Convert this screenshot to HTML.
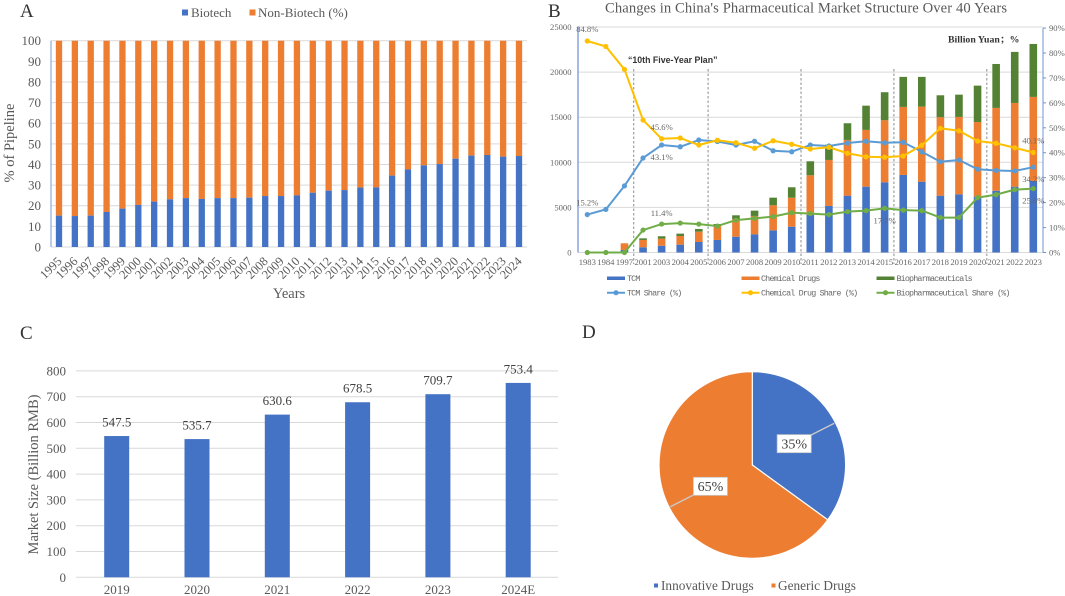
<!DOCTYPE html>
<html lang="en">
<head>
<meta charset="utf-8">
<title>China Pharmaceutical Market Charts</title>
<style>
html,body{margin:0;padding:0;background:#fff;width:1065px;height:596px;overflow:hidden}
svg{display:block;filter:blur(0.3px)}
text{font-family:"Liberation Serif","Noto Serif CJK SC",serif;fill:#595959}
.tiny{font-size:8.6px;fill:#666}
.mono{font-family:"Liberation Mono","Noto Sans CJK SC",monospace;font-size:8.4px;letter-spacing:-0.84px;fill:#666}
.panel{font-size:19px;fill:#333}
</style>
</head>
<body>
<svg id="chart" xmlns="http://www.w3.org/2000/svg" width="1065" height="596" viewBox="0 0 1065 596">
  <rect x="0" y="0" width="1065" height="596" fill="#fff"/>

  <text class="panel" x="20" y="17">A</text>
  <text class="panel" x="548" y="17">B</text>
  <text class="panel" x="20" y="339">C</text>
  <text class="panel" x="582" y="338">D</text>

  <g>
    <rect x="182" y="9.5" width="6" height="6" fill="#4472c4"/>
    <text x="191" y="17" font-size="13">Biotech</text>
    <rect x="249.5" y="9.5" width="6" height="6" fill="#ed7d31"/>
    <text x="258" y="17" font-size="13">Non-Biotech (%)</text>
  </g>
  <text transform="translate(14,143) rotate(-90)" text-anchor="middle" font-size="14.5">% of Pipeline</text>
  <text x="289" y="298" text-anchor="middle" font-size="14.5">Years</text>
  <g id="panelA"></g>

  <text x="806" y="12.5" text-anchor="middle" font-size="14.6" textLength="402" lengthAdjust="spacing">Changes in China's Pharmaceutical Market Structure Over 40 Years</text>
  <text x="628" y="63" font-size="8.8" font-weight="bold" style="font-family:'Liberation Sans',sans-serif;fill:#333">“10th Five-Year Plan”</text>
  <text x="948" y="42.5" font-size="9.8" font-weight="bold" style="fill:#333">Billion Yuan；%</text>
  <g id="panelB"></g>
  <g>
    <rect x="607" y="276.5" width="18" height="3.5" fill="#4472c4"/>
    <text class="mono" x="627" y="281">TCM</text>
    <rect x="741.5" y="276.5" width="18" height="3.5" fill="#ed7d31"/>
    <text class="mono" x="761" y="281">Chemical Drugs</text>
    <rect x="876.5" y="276.5" width="18" height="3.5" fill="#548235"/>
    <text class="mono" x="896.5" y="281">Biopharmaceuticals</text>
    <line x1="607" x2="625" y1="292.7" y2="292.7" stroke="#5b9bd5" stroke-width="2"/>
    <circle cx="616" cy="292.7" r="2.6" fill="#5b9bd5"/>
    <text class="mono" x="627" y="295.5">TCM Share (%)</text>
    <line x1="741.5" x2="759.5" y1="292.7" y2="292.7" stroke="#ffc000" stroke-width="2"/>
    <circle cx="750.5" cy="292.7" r="2.6" fill="#ffc000"/>
    <text class="mono" x="761" y="295.5">Chemical Drug Share (%)</text>
    <line x1="876.5" x2="894.5" y1="292.7" y2="292.7" stroke="#70ad47" stroke-width="2"/>
    <circle cx="885.5" cy="292.7" r="2.6" fill="#70ad47"/>
    <text class="mono" x="896.5" y="295.5">Biopharmaceutical Share (%)</text>
  </g>

  <text transform="translate(38,474.5) rotate(-90)" text-anchor="middle" font-size="14.5">Market Size (Billion RMB)</text>
  <g id="panelC"></g>

  <g id="panelD"></g>
  <g>
    <rect x="654" y="583.5" width="4" height="4" fill="#4472c4"/>
    <text x="661" y="590" font-size="13.3">Innovative Drugs</text>
    <rect x="771.5" y="583.5" width="4" height="4" fill="#ed7d31"/>
    <text x="778" y="590" font-size="13.3">Generic Drugs</text>
  </g>
</svg>
<script>
// Panel A data
const yearsA = ['1995','1996','1997','1998','1999','2000','2001','2002','2003','2004','2005','2006','2007','2008','2009','2010','2011','2012','2013','2014','2015','2016','2017','2018','2019','2020','2021','2022','2023','2024'];
const biotechShare = [15.2,15,15.2,17,18.6,20.4,22,23.1,23.7,23.3,23.7,23.7,23.9,24.7,24.7,25,26.3,27.3,27.6,28.8,28.9,34.6,37.6,39.6,40.2,42.8,44.3,44.6,43.8,44.1];
const ticksA = [0,10,20,30,40,50,60,70,80,90,100];

// Panel B data
const yearsB = ['1983','1984','1997','2001','2003','2004','2005','2006','2007','2008','2009','2010','2011','2012','2013','2014','2015','2016','2017','2018','2019','2020','2021','2022','2023'];
const tcmValues = [0,0,280,580,750,870,1165,1390,1750,2020,2460,2860,4160,5160,6300,7300,7790,8600,7850,6300,6450,6190,6850,7300,7930];
const chemicalValues = [0,0,740,810,780,960,1145,1550,1965,2030,2775,3220,4400,5100,6180,6290,6870,7540,8320,8700,8580,8280,9180,9280,9320];
const biopharmaValues = [0,0,0,180,270,260,300,220,410,590,845,1150,1555,1690,1850,2690,3110,3330,3300,2430,2470,4030,4870,5660,5870];
const tcmSharePct = [15.2,17.3,26.7,37.9,43.1,42.4,45.1,44.5,43.1,44.6,40.8,40.4,43.1,42.7,43.9,44.6,44,44.2,40.4,36.4,37.1,33.4,32.9,32.7,34.2];
const chemicalSharePct = [84.8,82.6,73.4,53.1,45.6,45.9,43.1,45,44,41.8,44.8,43.4,41.5,42.2,39.8,38.4,38.2,38.7,43,49.8,48.8,44.7,43.8,42,40.1];
const biopharmaSharePct = [0,0,0,9,11.4,11.8,11.4,10.6,13,13.7,14.4,16,15.6,15.2,16.4,16.8,17.7,17,16.8,14,14,22,23.2,25.2,25.6];
const ticksBLeft = [0,5000,10000,15000,20000,25000];
const ticksBRight = [0,10,20,30,40,50,60,70,80,90];
const planBoundaryAfter = ['1997','2005','2010','2015','2020'];
const tcmLabelYears = ['1983','2003','2023'];
const chemicalLabelYears = ['1983','2003','2023'];
const biopharmaLabelYears = ['2003','2015','2023'];

// Panel C data
const yearsC = ['2019','2020','2021','2022','2023','2024E'];
const marketSize = [547.5,535.7,630.6,678.5,709.7,753.4];
const ticksC = [0,100,200,300,400,500,600,700,800];

// Panel D data
const pieLabels = ['Innovative Drugs','Generic Drugs'];
const pieShares = [35,65];

const NS = 'http://www.w3.org/2000/svg';
function make(tag, attrs, parent, content) {
  const n = document.createElementNS(NS, tag);
  for (const k in attrs) n.setAttribute(k, attrs[k]);
  if (content !== undefined) n.textContent = content;
  parent.appendChild(n);
  return n;
}

/* ---------- Panel A ---------- */
const gA = document.getElementById('panelA');
const xA = i => 59 + i * (460 / 29);
const yA = v => 247 - v * 2.063;
ticksA.forEach(t => {
  const line = make('line', {x1:51, x2:527, y1:yA(t), y2:yA(t), stroke:'#d9d9d9', 'stroke-width':1}, gA);
  
  
  const label = make('text', {x:41, y:yA(t)+4.5, 'text-anchor':'end', 'font-size':13}, gA, String(t));
  
  
});
const axisA = make('line', {x1:51, x2:51, y1:yA(100), y2:yA(0), stroke:'#8faadc', 'stroke-width':1.2}, gA);


yearsA.forEach((year, i) => {
  const v = biotechShare[i];
  const top = make('rect', {x:xA(i)-3.15, y:yA(100), width:6.3, height:yA(v)-yA(100), fill:'#ed7d31'}, gA);
  
  
  const bottom = make('rect', {x:xA(i)-3.15, y:yA(v), width:6.3, height:yA(0)-yA(v), fill:'#4472c4'}, gA);
  
  
  const label = make('text', {transform:'translate(' + (xA(i)+3.5) + ',262) rotate(-45)', 'text-anchor':'end', 'font-size':12.5}, gA, year);
  
  
});

/* ---------- Panel B ---------- */
const gB = document.getElementById('panelB');
const xB = i => 587.3 + i * (446 / 24);
const yBL = v => 252.5 - v * 0.00902;
const yBR = p => 252.5 - p * 2.494;
ticksBLeft.forEach(t => {
  const line = make('line', {x1:578, x2:1043, y1:yBL(t), y2:yBL(t), stroke:'#d9d9d9', 'stroke-width':1}, gB);
  
  
  const label = make('text', {class:'tiny', x:571.5, y:yBL(t)+3, 'text-anchor':'end'}, gB, String(t));
  
  
});
const axisBL = make('line', {x1:578, x2:578, y1:yBL(25000), y2:yBL(0), stroke:'#8faadc', 'stroke-width':1.6}, gB);


const axisBR = make('line', {x1:1043, x2:1043, y1:yBR(90), y2:yBR(0), stroke:'#6f94d6', 'stroke-width':1}, gB);


ticksBRight.forEach(t => {
  const tick = make('line', {x1:1043, x2:1046, y1:yBR(t), y2:yBR(t), stroke:'#6f94d6', 'stroke-width':1}, gB);
  
  
  const label = make('text', {class:'tiny', x:1049, y:yBR(t)+3}, gB, t + '%');
  
  
});
yearsB.forEach((year, i) => {
  const w = 7.6, t = tcmValues[i], c = chemicalValues[i], b = biopharmaValues[i];
  const r1 = make('rect', {x:xB(i)-w/2, y:yBL(t), width:w, height:yBL(0)-yBL(t), fill:'#4472c4'}, gB);
  
  
  const r2 = make('rect', {x:xB(i)-w/2, y:yBL(t+c), width:w, height:yBL(t)-yBL(t+c), fill:'#ed7d31'}, gB);
  
  
  const r3 = make('rect', {x:xB(i)-w/2, y:yBL(t+c+b), width:w, height:yBL(t+c)-yBL(t+c+b), fill:'#548235'}, gB);
  
  
  const label = make('text', {class:'tiny', x:xB(i), y:265, 'text-anchor':'middle'}, gB, year);
  
  
});
planBoundaryAfter.forEach(year => {
  const x = xB(yearsB.indexOf(year) + 0.5);
  const line = make('line', {x1:x, x2:x, y1:69, y2:264, stroke:'#7f7f7f', 'stroke-width':0.9, 'stroke-dasharray':'2.5 2'}, gB);
  
  
});
function shareLine(values, color, name) {
  const pts = values.map((p, i) => xB(i) + ',' + yBR(p)).join(' ');
  const line = make('polyline', {points:pts, fill:'none', stroke:color, 'stroke-width':2, 'stroke-linejoin':'round'}, gB);
  
  
  values.forEach((p, i) => {
    const dot = make('circle', {cx:xB(i), cy:yBR(p), r:2.6, fill:color}, gB);
    
    
  });
}
shareLine(tcmSharePct, '#5b9bd5', 'tcm-share');
shareLine(chemicalSharePct, '#ffc000', 'chemical-share');
shareLine(biopharmaSharePct, '#70ad47', 'biopharmaceutical-share');
function shareLabels(years, values, dy, name) {
  years.forEach((year, k) => {
    const i = yearsB.indexOf(year);
    const label = make('text', {class:'tiny', x:xB(i), y:yBR(values[i]) + dy[k] + 3, 'text-anchor':'middle'}, gB, values[i].toFixed(1) + '%');
    
    
  });
}
shareLabels(tcmLabelYears, tcmSharePct, [-12,12,12], 'tcm-share');
shareLabels(chemicalLabelYears, chemicalSharePct, [-12,-12,-12], 'chemical-share');
shareLabels(biopharmaLabelYears, biopharmaSharePct, [-11,12,12], 'biopharmaceutical-share');

/* ---------- Panel C ---------- */
const gC = document.getElementById('panelC');
const xC = i => 116.7 + i * 80.3;
const yC = v => 577.3 - v * 0.258;
ticksC.forEach(t => {
  const line = make('line', {x1:76, x2:558, y1:yC(t), y2:yC(t), stroke:'#d9d9d9', 'stroke-width':1}, gC);
  
  
  const label = make('text', {x:66, y:yC(t)+4.5, 'text-anchor':'end', 'font-size':13}, gC, String(t));
  
  
});
yearsC.forEach((year, i) => {
  const v = marketSize[i];
  const bar = make('rect', {x:xC(i)-12.5, y:yC(v), width:25, height:yC(0)-yC(v), fill:'#4472c4'}, gC);
  
  
  const value = make('text', {x:xC(i), y:yC(v)-9.5, 'text-anchor':'middle', 'font-size':13, style:'fill:#404040'}, gC, v.toFixed(1));
  
  
  const label = make('text', {x:xC(i), y:594, 'text-anchor':'middle', 'font-size':13}, gC, year);
  
  
});

/* ---------- Panel D ---------- */
const gD = document.getElementById('panelD');
const pieCx = 752.3, pieCy = 465, pieR = 93.3;
const polar = (deg, r) => [pieCx + r * Math.sin(deg * Math.PI / 180), pieCy - r * Math.cos(deg * Math.PI / 180)];
const pieColors = ['#4472c4', '#ed7d31'];
const pieTotal = pieShares.reduce((a, b) => a + b, 0);
let pieStart = 0;
const pieMids = [];
pieShares.forEach((s, i) => {
  const sweep = s / pieTotal * 360;
  const a = polar(pieStart, pieR), b = polar(pieStart + sweep, pieR);
  const d = 'M' + pieCx + ' ' + pieCy + 'L' + a[0] + ' ' + a[1] + 'A' + pieR + ' ' + pieR + ' 0 ' + (sweep > 180 ? 1 : 0) + ' 1 ' + b[0] + ' ' + b[1] + 'Z';
  const slice = make('path', {d:d, fill:pieColors[i], stroke:'#fff', 'stroke-width':1.2}, gD);
  
  
  pieMids.push(pieStart + sweep / 2);
  pieStart += sweep;
});
pieShares.forEach((s, i) => {
  const inner = polar(pieMids[i], 47), outer = polar(pieMids[i], 92);
  const leader = make('line', {x1:inner[0], y1:inner[1], x2:outer[0], y2:outer[1], stroke:'#c9c9c9', 'stroke-width':1.4}, gD);
  
  
  const box = make('rect', {x:inner[0]-17, y:inner[1]-9, width:34, height:18, fill:'#fff', stroke:'#c9c9c9', 'stroke-width':0.8}, gD);
  
  
  const label = make('text', {x:inner[0], y:inner[1]+4.8, 'text-anchor':'middle', 'font-size':14, style:'fill:#404040'}, gD, s + '%');
  
  
});
</script>
</body>
</html>
